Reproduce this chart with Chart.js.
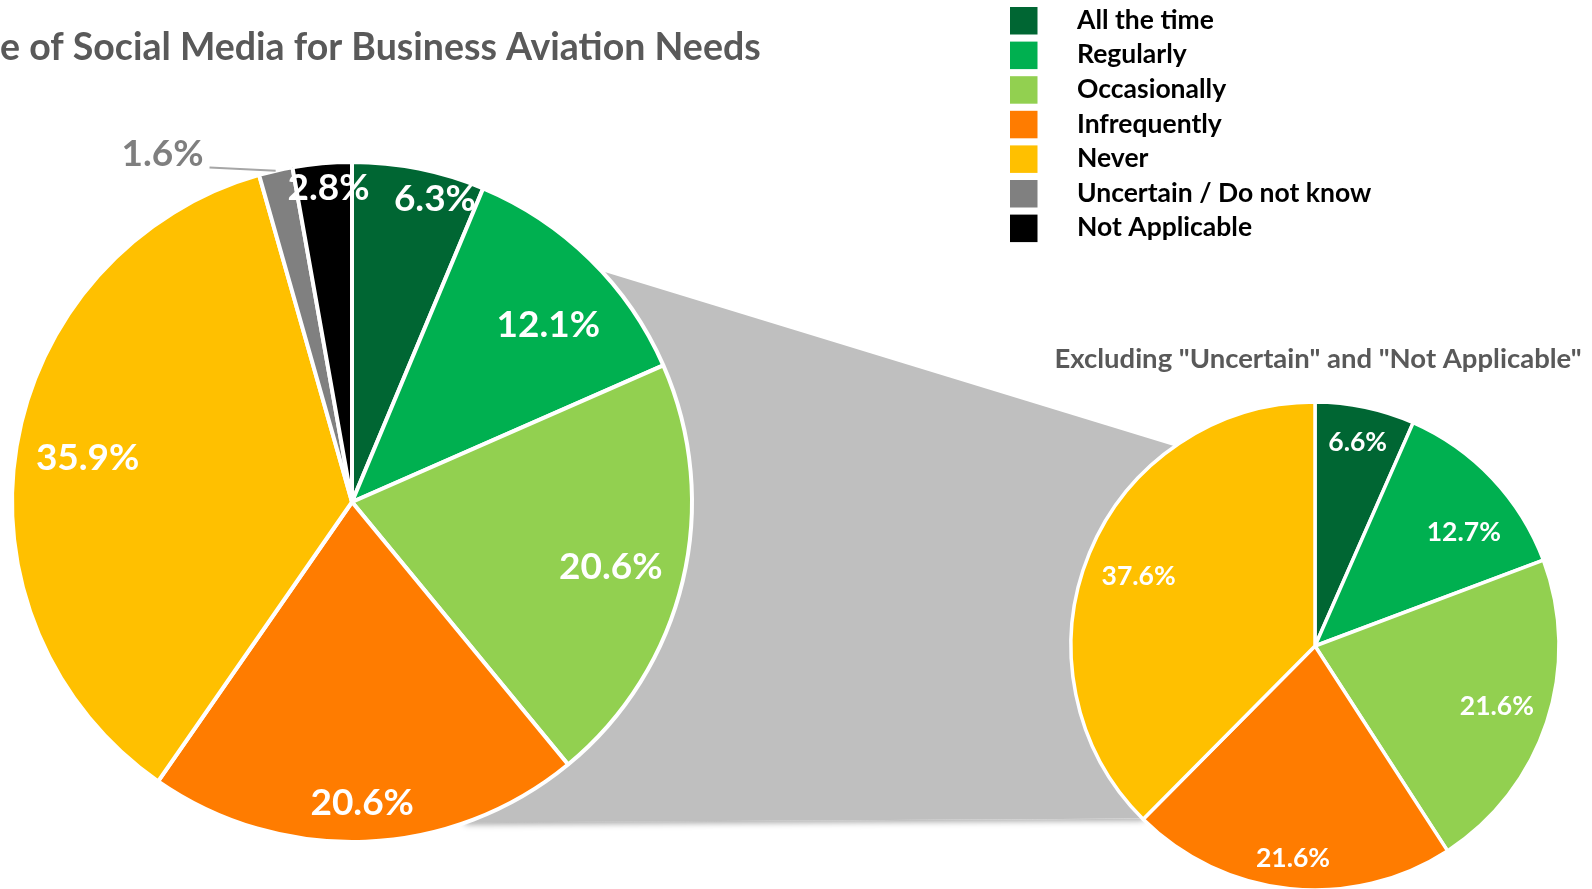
<!DOCTYPE html>
<html>
<head>
<meta charset="utf-8">
<script src="https://cdn.jsdelivr.net/npm/chart.js@4.4.1/dist/chart.umd.min.js"></script>
<style>
html,body{margin:0;padding:0;background:#fff;overflow:hidden;}
#wrap{position:relative;width:1592px;height:889px;}
#wrap canvas{position:absolute;left:0;top:0;}
</style>
</head>
<body>
<div id="wrap">
  <canvas id="mainPie" width="1592" height="889"></canvas>
  <canvas id="subPie" width="1592" height="889"></canvas>
</div>
<script>
// ---------------- DATA ----------------
const titleText = 'e of Social Media for Business Aviation Needs';
const subtitleText = 'Excluding "Uncertain" and "Not Applicable"';
const categories = ['All the time', 'Regularly', 'Occasionally', 'Infrequently', 'Never', 'Uncertain / Do not know', 'Not Applicable'];
const allResponses = [6.3, 12.1, 20.6, 20.6, 35.9, 1.6, 2.8];
const subsetCategories = ['All the time', 'Regularly', 'Occasionally', 'Infrequently', 'Never'];
const subsetResponses = [6.6, 12.7, 21.6, 21.6, 37.6];

// ---------------- STYLE ----------------
const sliceColors = ['#006633', '#00B050', '#92D050', '#FF7C00', '#FFC000', '#808080', '#000000'];
const FONT = 'Lato, "Open Sans", sans-serif';
const W = 1592, H = 889;
const mainGeom = {cx: 352, cy: 502, r: 340};
const subGeom = {cx: 1315, cy: 646, r: 244};

function padFor(g) {
  const half = Math.min(g.r + 6, g.cy, H - g.cy, g.cx, W - g.cx);
  return {left: g.cx - half, right: W - (g.cx + half), top: g.cy - half, bottom: H - (g.cy + half)};
}

function edgePoint(arc, deg) {
  const a = deg * Math.PI / 180;
  return {x: arc.x + arc.outerRadius * Math.sin(a), y: arc.y - arc.outerRadius * Math.cos(a)};
}

// slice value labels
const sliceLabels = {
  id: 'sliceLabels',
  afterDatasetsDraw(chart, args, o) {
    const meta = chart.getDatasetMeta(0);
    const vals = chart.data.datasets[0].data;
    const ctx = chart.ctx;
    ctx.save();
    ctx.font = 'bold ' + o.size + 'px ' + FONT;
    ctx.textAlign = 'center';
    ctx.textBaseline = 'alphabetic';
    meta.data.forEach((arc, i) => {
      const p = arc.getProps(['x', 'y', 'startAngle', 'endAngle', 'outerRadius']);
      const mid = (p.startAngle + p.endAngle) / 2;
      const txt = vals[i].toFixed(1) + '%';
      const out = o.outside && o.outside.index === i;
      const frac = out ? o.outside.frac : o.frac[i];
      const a = mid + (out ? o.outside.delta : o.delta[i]) * Math.PI / 180;
      const lx = p.x + p.outerRadius * frac * Math.cos(a);
      const ly = p.y + p.outerRadius * frac * Math.sin(a);
      const base = ly + o.size * 0.36;
      ctx.fillStyle = out ? o.outside.color : o.color;
      ctx.fillText(txt, lx, base);
      if (out) {
        const w = ctx.measureText(txt).width;
        ctx.strokeStyle = o.outside.lineColor;
        ctx.lineWidth = 2;
        ctx.beginPath();
        ctx.moveTo(lx + w / 2 + 6, base + 1.5);
        ctx.lineTo(p.x + p.outerRadius * Math.cos(mid), p.y + p.outerRadius * Math.sin(mid));
        ctx.stroke();
      }
    });
    ctx.restore();
  }
};

// connector between the two pies (drawn behind the main pie)
const connector = {
  id: 'connector',
  beforeDatasetsDraw(chart, args, o) {
    const other = o.target && o.target();
    if (!other) return;
    const A = chart.getDatasetMeta(0).data[0];
    const B = other.getDatasetMeta(0).data[0];
    const p1 = edgePoint(A, o.mainTop), p2 = edgePoint(B, o.subTop);
    const p3 = edgePoint(B, o.subBottom), p4 = edgePoint(A, o.mainBottom);
    const shape = (c) => {
      c.beginPath();
      c.moveTo(A.x, A.y); c.lineTo(p1.x, p1.y); c.lineTo(p2.x, p2.y);
      c.lineTo(B.x, B.y); c.lineTo(p3.x, p3.y); c.lineTo(p4.x, p4.y);
      c.closePath();
    };
    const ctx = chart.ctx;
    // soft shadow under the bottom edge
    ctx.save();
    ctx.beginPath();
    ctx.moveTo(p4.x - 50, p4.y); ctx.lineTo(p3.x + 50, p3.y);
    ctx.lineTo(p3.x + 50, p3.y + 40); ctx.lineTo(p4.x - 50, p4.y + 40);
    ctx.closePath();
    ctx.clip();
    ctx.shadowColor = 'rgba(0,0,0,0.35)';
    ctx.shadowBlur = 6;
    ctx.shadowOffsetY = 2;
    ctx.fillStyle = o.color;
    shape(ctx);
    ctx.fill();
    ctx.restore();
    ctx.save();
    ctx.fillStyle = o.color;
    shape(ctx);
    ctx.fill();
    ctx.restore();
  }
};

// title + legend for the main chart
const decorations = {
  id: 'decorations',
  afterDraw(chart, args, o) {
    const ctx = chart.ctx;
    ctx.save();
    ctx.textAlign = 'left';
    ctx.textBaseline = 'alphabetic';
    ctx.fillStyle = '#595959';
    ctx.font = 'bold ' + o.titleSize + 'px ' + FONT;
    ctx.fillText(o.title, o.titleX, o.titleY);
    const labels = chart.data.labels;
    const colors = chart.data.datasets[0].backgroundColor;
    ctx.font = 'bold ' + o.legendSize + 'px ' + FONT;
    labels.forEach((lab, i) => {
      const y = o.legendTop + i * o.legendStep;
      ctx.fillStyle = colors[i];
      ctx.fillRect(o.legendX, y, o.box, o.box);
      ctx.fillStyle = '#000000';
      ctx.fillText(lab, o.legendTextX, y + o.box / 2 + o.legendSize * 0.3);
    });
    ctx.restore();
  }
};

const subTitle = {
  id: 'subTitle',
  afterDraw(chart, args, o) {
    const ctx = chart.ctx;
    const arc = chart.getDatasetMeta(0).data[0];
    ctx.save();
    ctx.textAlign = 'center';
    ctx.textBaseline = 'alphabetic';
    ctx.fillStyle = '#595959';
    ctx.font = 'bold ' + o.size + 'px ' + FONT;
    ctx.fillText(o.text, arc.x + o.dx, o.y);
    ctx.restore();
  }
};

Chart.defaults.font.family = FONT;

const subChart = new Chart(document.getElementById('subPie'), {
  type: 'pie',
  data: {
    labels: subsetCategories,
    datasets: [{
      data: subsetResponses,
      backgroundColor: sliceColors.slice(0, subsetResponses.length),
      borderColor: '#ffffff',
      borderWidth: 3.5
    }]
  },
  options: {
    responsive: false,
    animation: false,
    events: [],
    radius: subGeom.r,
    layout: {padding: padFor(subGeom)},
    plugins: {
      legend: {display: false},
      tooltip: {enabled: false},
      sliceLabels: {size: 26.5, color: '#ffffff', frac: [0.858, 0.77, 0.784, 0.873, 0.779], delta: [-0.1, 5.8, -0.2, 0, -0.5]},
      subTitle: {text: subtitleText, size: 27.5, y: 368, dx: 3}
    }
  },
  plugins: [sliceLabels, subTitle]
});

const mainChart = new Chart(document.getElementById('mainPie'), {
  type: 'pie',
  data: {
    labels: categories,
    datasets: [{
      data: allResponses,
      backgroundColor: sliceColors,
      borderColor: '#ffffff',
      borderWidth: 4
    }]
  },
  options: {
    responsive: false,
    animation: false,
    events: [],
    radius: mainGeom.r,
    layout: {padding: padFor(mainGeom)},
    plugins: {
      legend: {display: false},
      tooltip: {enabled: false},
      connector: {target: () => subChart, color: '#BFBFBF', mainTop: 47.2, subTop: 324.9, subBottom: 225, mainBottom: 160.5},
      sliceLabels: {
        size: 37, color: '#ffffff',
        frac: [0.927, 0.779, 0.784, 0.883, 0.789, 0, 0.93],
        delta: [3.9, 3.3, 0.5, 0.4, 0.3, 0, 0.8],
        outside: {index: 5, frac: 1.169, delta: -15.5, color: '#7F7F7F', lineColor: '#A6A6A6'}
      },
      decorations: {
        title: titleText, titleSize: 37.5, titleX: 0, titleY: 60,
        legendX: 1010, legendTextX: 1077, legendTop: 7, legendStep: 34.6, box: 27.5, legendSize: 26.5
      }
    }
  },
  plugins: [connector, sliceLabels, decorations]
});
</script>
</body>
</html>
